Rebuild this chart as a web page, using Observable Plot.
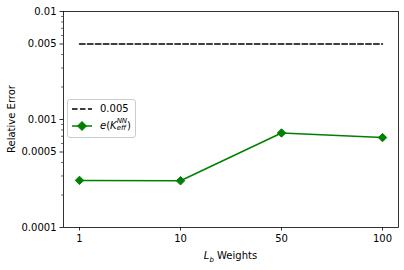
<!DOCTYPE html>
<html>
<head>
<meta charset="utf-8">
<script src="https://cdn.jsdelivr.net/npm/d3@7"></script>
<script src="https://cdn.jsdelivr.net/npm/@observablehq/plot@0.6"></script>
<style>
  html, body { margin: 0; padding: 0; background: white; }
  #wrap { position: relative; width: 404px; height: 270px; font-family: "DejaVu Sans", sans-serif; font-size: 10px; color: black; }
  .ylab { position: absolute; left: 11px; top: 119px; transform: translate(-50%, -50%) rotate(-90deg); white-space: nowrap; font-size: 10px; }
  .xlab { position: absolute; left: 63px; width: 335px; top: 249px; line-height: 14px; text-align: center; font-size: 10px; }
  .legend { position: absolute; left: 67px; top: 99px; width: 69px; height: 39px; border: 1px solid #cccccc; border-radius: 3px; background: rgba(255,255,255,0.8); box-sizing: border-box; }
  .legend svg { position: absolute; left: 3px; }
  .legend .lt { position: absolute; left: 32px; line-height: 12px; white-space: nowrap; }
  .ss { display: inline-block; vertical-align: middle; line-height: 7px; font-size: 7px; font-style: italic; margin-top: -2px; }
  .ss span { display: block; }
  i { font-style: italic; }
  sub { font-size: 7px; font-style: italic; }
</style>
</head>
<body>
<div id="wrap"></div>
<script>
const weights = ["1", "10", "50", "100"];
const errNN = [0.000273, 0.000271, 0.00075, 0.00068];
const threshold = 0.005;
const yMajorTicks = [0.0001, 0.0005, 0.001, 0.005, 0.01];
const yTickLabels = ["0.0001", "0.0005", "0.001", "0.005", "0.01"];
const yMinorTicks = [0.0002, 0.0003, 0.0004, 0.0006, 0.0007, 0.0008, 0.0009,
                     0.002, 0.003, 0.004, 0.006, 0.007, 0.008, 0.009];

const data = weights.map((w, i) => ({w, e: errNN[i]}));
const thr = weights.map(w => ({w, e: threshold}));

const chart = Plot.plot({
  width: 404,
  height: 270,
  marginLeft: 63,
  marginRight: 6,
  marginTop: 11,
  marginBottom: 43,
  style: {fontFamily: "DejaVu Sans", fontSize: "10px", background: "white", color: "black", overflow: "visible"},
  x: {type: "point", domain: weights, padding: 0.15},
  y: {type: "log", domain: [1e-4, 1e-2]},
  marks: [
    Plot.axisY({ticks: yMinorTicks, tickSize: 2, text: null, label: null, strokeWidth: 0.6}),
    Plot.axisY({ticks: yMajorTicks, tickSize: 3.5, tickPadding: 3.5, label: null, strokeWidth: 0.8,
      tickFormat: d => yTickLabels[yMajorTicks.indexOf(d)]}),
    Plot.axisX({tickSize: 3.5, tickPadding: 3.5, label: null, strokeWidth: 0.8}),
    Plot.line(thr, {x: "w", y: "e", stroke: "black", strokeWidth: 1.5, strokeDasharray: "5.55,2.4"}),
    Plot.line(data, {x: "w", y: "e", stroke: "green", strokeWidth: 1.5}),
    Plot.dot(data, {x: "w", y: "e", symbol: "diamond2", r: 3.8, fill: "green", stroke: "green", strokeWidth: 1}),
    Plot.frame({stroke: "black", strokeWidth: 0.8})
  ]
});

const wrap = document.getElementById("wrap");
wrap.appendChild(chart);

const ylab = document.createElement("div");
ylab.className = "ylab";
ylab.textContent = "Relative Error";
wrap.appendChild(ylab);

const xlab = document.createElement("div");
xlab.className = "xlab";
xlab.innerHTML = '<i>L</i><sub>b</sub> Weights';
wrap.appendChild(xlab);

const legend = document.createElement("div");
legend.className = "legend";
legend.innerHTML =
  '<svg width="22" height="10" style="top:3.7px"><line x1="1" y1="5" x2="21" y2="5" stroke="black" stroke-width="1.5" stroke-dasharray="5.55,2.4"/></svg>' +
  '<div class="lt" style="top:2.5px">0.005</div>' +
  '<svg width="22" height="12" style="top:20px"><line x1="1" y1="6" x2="21" y2="6" stroke="green" stroke-width="1.5"/>' +
  '<path d="M11,1.5 L15.5,6 L11,10.5 L6.5,6 Z" fill="green" stroke="green" stroke-width="1"/></svg>' +
  '<div class="lt" style="top:19.5px"><i>e</i>(<i>K</i><span class="ss"><span>NN</span><span>eff</span></span>)</div>';
wrap.appendChild(legend);
</script>
</body>
</html>
